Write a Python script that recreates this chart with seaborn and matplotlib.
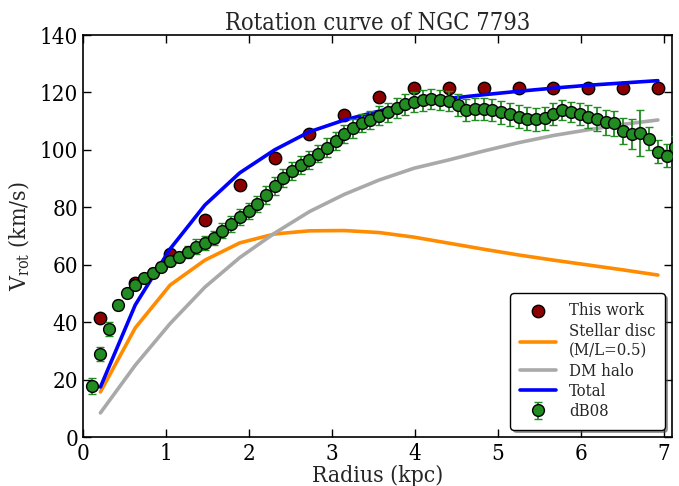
import matplotlib
matplotlib.use("Agg")
import matplotlib.pyplot as plt
import seaborn as sns
import numpy as np

# ---- data ----
r_model = [0.21, 0.63, 1.05, 1.47, 1.89, 2.31, 2.73, 3.15, 3.57, 3.99,
           4.41, 4.83, 5.25, 5.67, 6.09, 6.51, 6.93]
v_this = [41.4, 53.6, 63.7, 75.6, 87.8, 97.2, 105.5, 112.2, 118.5, 121.6,
          121.6, 121.6, 121.6, 121.6, 121.6, 121.6, 121.6]
v_disc = [15.7, 38.0, 52.9, 61.6, 67.6, 70.7, 71.8, 71.9, 71.2, 69.6,
          67.5, 65.4, 63.4, 61.6, 59.9, 58.2, 56.4]
v_halo = [8.4, 25.0, 39.5, 52.2, 62.5, 71.0, 78.5, 84.5, 89.5, 93.6,
          96.5, 99.6, 102.5, 105.0, 107.0, 108.9, 110.4]
v_total = [17.4, 46.0, 65.5, 80.8, 92.0, 100.0, 106.3, 110.4, 113.5, 116.5,
           117.9, 119.2, 120.4, 121.5, 122.5, 123.3, 124.1]

r_db = [0.105, 0.21, 0.315, 0.42, 0.525, 0.63, 0.735, 0.84, 0.945, 1.05,
        1.155, 1.26, 1.365, 1.47, 1.575, 1.68, 1.785, 1.89, 1.995, 2.1,
        2.205, 2.31, 2.415, 2.52, 2.625, 2.73, 2.835, 2.94, 3.045, 3.15,
        3.255, 3.36, 3.465, 3.57, 3.675, 3.78, 3.885, 3.99, 4.095, 4.2,
        4.305, 4.41, 4.515, 4.62, 4.725, 4.83, 4.935, 5.04, 5.145, 5.25,
        5.355, 5.46, 5.565, 5.67, 5.775, 5.88, 5.985, 6.09, 6.195, 6.3,
        6.405, 6.51, 6.615, 6.72, 6.825, 6.93, 7.035, 7.14]
v_db = [17.8, 28.9, 37.6, 46.0, 50.2, 52.9, 55.3, 57.2, 59.3, 61.2,
        62.8, 64.5, 66.3, 67.5, 69.2, 71.9, 74.1, 76.5, 78.8, 81.2,
        84.3, 87.4, 90.1, 92.7, 94.7, 96.5, 98.6, 100.8, 103.1, 105.5,
        107.5, 109.3, 110.4, 111.8, 113.1, 114.5, 115.8, 116.7, 117.2, 117.6,
        117.4, 117.0, 115.6, 113.9, 114.1, 114.1, 113.9, 113.1, 112.4, 111.6,
        110.8, 110.7, 111.0, 112.6, 113.9, 113.3, 112.6, 111.6, 110.7, 109.6,
        109.3, 106.7, 105.4, 105.9, 103.8, 99.4, 97.9, 101.0]
e_db = [2.9, 2.3, 2.3, 1.8, 1.5, 1.5, 1.5, 1.5, 1.5, 1.8,
        1.8, 2.0, 2.5, 2.5, 2.5, 2.5, 2.8, 2.8, 2.8, 2.8,
        3.0, 3.2, 3.2, 3.2, 3.0, 3.0, 3.0, 3.2, 3.2, 3.2,
        3.2, 3.2, 3.3, 3.3, 3.3, 3.5, 3.5, 3.5, 3.5, 3.5,
        3.5, 3.5, 3.8, 3.8, 3.8, 3.8, 3.8, 4.0, 4.0, 4.0,
        4.0, 4.0, 4.0, 3.8, 3.5, 3.5, 3.8, 4.0, 4.2, 4.4,
        4.4, 4.5, 5.2, 8.0, 4.0, 4.0, 4.0, 4.0]

x_ticks = [0, 1, 2, 3, 4, 5, 6, 7]
y_ticks = [0, 20, 40, 60, 80, 100, 120, 140]

# ---- style ----
sns.set_style("ticks", {"xtick.direction": "in", "ytick.direction": "in",
                        "axes.edgecolor": "black", "xtick.top": True,
                        "ytick.right": True})
plt.rcParams["font.family"] = ["DejaVu Serif"]
plt.rcParams["font.stretch"] = "condensed"
plt.rcParams["mathtext.fontset"] = "dejavuserif"

fig = plt.figure(figsize=(6.79, 4.86), dpi=100)
ax = fig.add_axes([83 / 679, 1 - 437 / 486, (672 - 83) / 679, (437 - 35) / 486])

sns.scatterplot(x=r_model, y=v_this, ax=ax, color="darkred", s=80,
                edgecolor="black", linewidth=1, label="This work", zorder=2)
sns.lineplot(x=r_model, y=v_disc, ax=ax, color="darkorange", lw=2.6,
             label="Stellar disc\n(M/L=0.5)", zorder=3)
sns.lineplot(x=r_model, y=v_halo, ax=ax, color="darkgray", lw=2.6,
             label="DM halo", zorder=3)
sns.lineplot(x=r_model, y=v_total, ax=ax, color="blue", lw=2.6,
             label="Total", zorder=3)
ax.errorbar(r_db, v_db, yerr=e_db, fmt="o", color="forestgreen", ms=8.5,
            mec="black", mew=1, ecolor="forestgreen", elinewidth=1.3,
            capsize=3, capthick=1.3, label="dB08", zorder=4)

ax.set_xlim(0, 7.1)
ax.set_ylim(0, 140)
ax.set_xticks(x_ticks)
ax.set_yticks(y_ticks)
ax.tick_params(axis="both", which="major", length=6, width=1, labelsize=16,
               direction="in", top=True, right=True, colors="black")
ax.tick_params(axis="x", pad=4)
for s in ax.spines.values():
    s.set_linewidth(1.2)
    s.set_color("black")

ax.set_xlabel("Radius (kpc)", fontsize=16.5, labelpad=0)
ax.set_ylabel(r"V$_{\rm rot}$ (km/s)", fontsize=16.5, labelpad=6)
ax.set_title("Rotation curve of NGC 7793", fontsize=17, pad=3)

handles, labels = ax.get_legend_handles_labels()
order = ["This work", "Stellar disc\n(M/L=0.5)", "DM halo", "Total", "dB08"]
hmap = dict(zip(labels, handles))
leg = ax.legend([hmap[l] for l in order], order, loc="lower right",
                fontsize=12, fancybox=True, shadow=True, framealpha=1,
                edgecolor="black", numpoints=1, scatterpoints=1,
                borderaxespad=0.45, borderpad=0.55, handlelength=2.2,
                handletextpad=0.75, labelspacing=0.2)

fig.savefig("out.png", dpi=100)
